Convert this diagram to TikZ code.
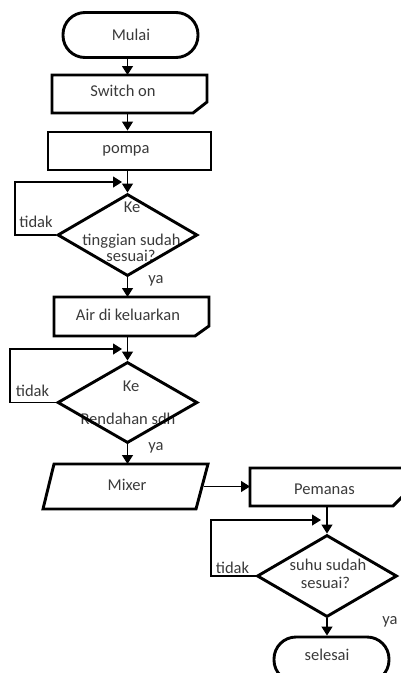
\documentclass[tikz,border=0pt]{standalone}
\usepackage{fontspec}
\setmainfont{Carlito}
\usetikzlibrary{shapes.geometric,arrows.meta}
\definecolor{inktext}{HTML}{3A3A3A}
\begin{document}
\begin{tikzpicture}[x=1pt,y=-1pt,
  outline/.style={draw=black,line width=2.9pt,line join=miter},
  term/.style={outline,rectangle,rounded corners=22pt,inner sep=0pt},
  procbox/.style={outline,rectangle,inner sep=0pt},
  holder/.style={draw=none,rectangle,inner sep=0pt,outer sep=0pt},
  decision/.style={outline,diamond,inner sep=0pt,minimum width=140pt},
  lbl/.style={font=\fontsize{16.5}{18}\selectfont,text=inktext,inner sep=0pt,
              text height=11pt,text depth=3.5pt},
  flow/.style={line width=1.2pt,-{Triangle[length=9pt,width=11pt]}},
]
\useasboundingbox (0,0) rectangle (401,673);

% ---- left column -------------------------------------------------
\node[term,minimum width=135pt,minimum height=45pt] (mulai) at (130.5,35) {};
\node[lbl] (tMulai) at (131,37) {Mulai};

\node[holder,minimum width=155pt,minimum height=38pt] (sw) at (129.5,94) {};
\draw[outline] (sw.north west) -- (sw.north east) -- ([yshift=11pt]sw.south east)
  -- ([xshift=-14pt]sw.south east) -- (sw.south west) -- cycle;
\node[lbl] (tSw) at (123,93) {Switch on};

\node[procbox,minimum width=163pt,minimum height=38pt] (pompa) at (129.5,151) {};
\node[lbl] (tPompa) at (126,150) {pompa};

% first decision: text lies under the outline
\node[lbl] (tK1a) at (132,209) {Ke};
\node[lbl] (tK1b) at (131.5,242) {tinggian sudah};
\node[lbl] (tK1c) at (131,258) {sesuai?};
\node[decision,minimum height=82pt] (d1) at (127.5,235) {};

\node[holder,minimum width=155pt,minimum height=39pt] (air) at (131.5,316.5) {};
\draw[outline] (air.north west) -- (air.north east) -- ([yshift=10pt]air.south east)
  -- ([xshift=-14pt]air.south east) -- (air.south west) -- cycle;
\node[lbl] (tAir) at (128,317) {Air di keluarkan};

% second decision
\node[lbl] (tK2a) at (131,388) {Ke};
\node[lbl] (tK2b) at (128,421) {Rendahan sdh};
\node[decision,minimum height=81pt] (d2) at (127.5,402.5) {};

\node[holder,minimum width=165pt,minimum height=45pt] (mx) at (125.5,486.5) {};
\draw[outline] ([xshift=11pt]mx.north west) -- (mx.north east)
  -- ([xshift=-12pt]mx.south east) -- (mx.south west) -- cycle;
\node[lbl] (tMx) at (127,487) {Mixer};

% ---- right column ------------------------------------------------
\node[holder,minimum width=154pt,minimum height=38pt] (pm) at (327,487) {};
\draw[outline] (pm.north west) -- (pm.north east) -- ([yshift=11pt]pm.south east)
  -- ([xshift=-11pt]pm.south east) -- (pm.south west) -- cycle;
\node[lbl] (tPm) at (324.5,491) {Pemanas};

\node[lbl] (tS1) at (328,567) {suhu sudah};
\node[lbl] (tS2) at (325.5,585) {sesuai?};
\node[decision,minimum height=82pt] (d3) at (327,576) {};

\node[term,minimum width=115pt,minimum height=45pt] (selesai) at (331.5,659.5) {};
\node[lbl] (tSelesai) at (327,657) {selesai};

% ---- connectors --------------------------------------------------
\draw[flow] (mulai.south -| d1.center) -- (sw.north -| d1.center);
\draw[flow] (sw.south -| d1.center) -- (pompa.north -| d1.center);
\draw[flow] (pompa.south -| d1.center) -- (d1.north);
\draw[flow] (d1.south) -- (air.north -| d1.center);
\draw[flow] (air.south -| d1.center) -- (d2.north);
\draw[flow] (d2.south) -- (mx.north -| d2.center);
\draw[flow] ([xshift=-4pt]mx.east) -- (mx.east -| pm.west);
\draw[flow] (pm.south -| d3.center) -- (d3.north);
\draw[flow] (d3.south) -- (selesai.north -| d3.center);

% "tidak" loops back to the top of each decision
\coordinate (c1) at (15,182);  \coordinate (j1) at (122,182);
\coordinate (c2) at (10,349);  \coordinate (j2) at (122,349);
\coordinate (c3) at (211,520); \coordinate (j3) at (321,520);
\draw[flow] (d1.west) -| (c1) -- (j1);
\draw[flow] (d2.west) -| (c2) -- (j2);
\draw[flow] (d3.west) -| (c3) -- (j3);

% branch labels
\node[lbl] (n1) at (36,224) {tidak};
\node[lbl] (n2) at (32.5,393) {tidak};
\node[lbl] (n3) at (232.5,570) {tidak};
\node[lbl] (y1) at (156,280) {ya};
\node[lbl] (y2) at (156,446.5) {ya};
\node[lbl] (y3) at (390,620.5) {ya};
\end{tikzpicture}
\end{document}
